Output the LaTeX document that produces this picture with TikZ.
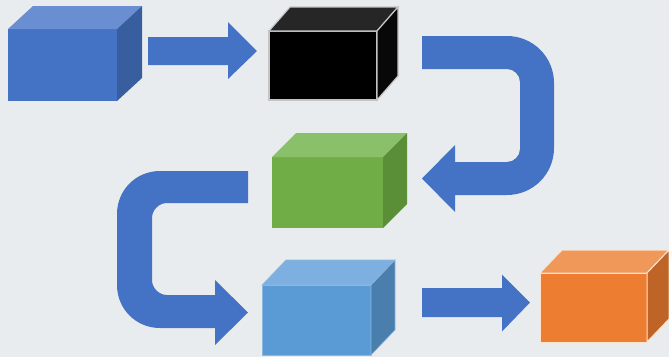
\documentclass[tikz,border=0pt]{standalone}
\usetikzlibrary{calc}
\definecolor{bgc}{HTML}{E9ECEE}
\definecolor{arrowc}{HTML}{4472C4}
\definecolor{bfront}{HTML}{4472C4}\definecolor{btop}{HTML}{6A8ED2}\definecolor{bside}{HTML}{395E9F}
\definecolor{kfront}{HTML}{000000}\definecolor{ktop}{HTML}{262626}\definecolor{kside}{HTML}{080808}\definecolor{kline}{HTML}{C4C4C4}
\definecolor{gfront}{HTML}{70AD47}\definecolor{gtop}{HTML}{8BC06A}\definecolor{gside}{HTML}{5A8F38}
\definecolor{lfront}{HTML}{5B9BD5}\definecolor{ltop}{HTML}{7DAFE0}\definecolor{lside}{HTML}{4A7EAD}\definecolor{lline}{HTML}{8DB8E2}
\definecolor{ofront}{HTML}{ED7D31}\definecolor{otop}{HTML}{F0975A}\definecolor{oside}{HTML}{BF6427}\definecolor{oline}{HTML}{FBE3D0}
\newcommand\cubefaces[6]{%
  \filldraw[#6,fill=#4] (#1.north west) -- ++(#2,-#3) -- ($(#1.north east)+(#2,-#3)$) -- (#1.north east) -- cycle;
  \filldraw[#6,fill=#5] (#1.north east) -- ++(#2,-#3) -- ($(#1.south east)+(#2,-#3)$) -- (#1.south east) -- cycle;}
\tikzset{
  box/.style={rectangle, inner sep=0pt, outer sep=0pt, anchor=north west},
  blockarrow/.style={fill=arrowc},
}
\begin{document}
\begin{tikzpicture}[x=1pt,y=-1pt]
\fill[bgc] (0,0) rectangle (669,357);
\useasboundingbox (0,0) rectangle (669,357);
% cubes
\node[box, fill=bfront, minimum width=109pt, minimum height=72pt] (b1) at (8,29) {};
\cubefaces{b1}{25}{23}{btop}{bside}{draw=none}
\node[box, fill=kfront, draw=kline, line width=1.2pt, minimum width=108pt, minimum height=69pt] (b2) at (269,31) {};
\cubefaces{b2}{21}{24}{ktop}{kside}{draw=kline, line width=1.2pt}
\node[box, fill=gfront, minimum width=111pt, minimum height=71pt] (b3) at (272,157) {};
\cubefaces{b3}{24}{24}{gtop}{gside}{draw=none}
\node[box, fill=lfront, draw=lline, line width=0.6pt, minimum width=109pt, minimum height=70pt] (b4) at (262,285) {};
\cubefaces{b4}{24}{25}{ltop}{lside}{draw=lline, line width=0.6pt}
\node[box, fill=ofront, draw=oline, line width=1pt, minimum width=107pt, minimum height=69pt] (b5) at (540,273) {};
\cubefaces{b5}{22}{23}{otop}{oside}{draw=oline, line width=1pt}
% straight arrows
\coordinate (a1s) at (148,51);
\coordinate (a1t) at (257,51);
\fill[blockarrow] ($(a1s)+(0,-14)$) -- ($(a1t)+(-29,-14)$) -- ($(a1t)+(-29,-29)$) -- (a1t)
  -- ($(a1t)+(-29,28)$) -- ($(a1t)+(-29,14)$) -- ($(a1s)+(0,14)$) -- cycle;
\coordinate (a2s) at (422,302.5);
\coordinate (a2t) at (530,302.5);
\fill[blockarrow] ($(a2s)+(0,-14.5)$) -- ($(a2t)+(-28,-14.5)$) -- ($(a2t)+(-28,-28)$) -- (a2t)
  -- ($(a2t)+(-28,29)$) -- ($(a2t)+(-28,14.5)$) -- ($(a2s)+(0,14.5)$) -- cycle;
% right U-turn arrow
\fill[blockarrow] (422,36) -- (507,36) .. controls (533,36) and (554,57) .. (554,83)
  -- (554,148) .. controls (554,174) and (533,195) .. (507,195)
  -- (455,195) -- (455,212) -- (422,178.5) -- (455,145) -- (455,162) -- (507,162)
  .. controls (514,162) and (520,156) .. (520,149) -- (520,82)
  .. controls (520,75) and (514,69) .. (507,69) -- (422,69) -- cycle;
% left C arrow
\fill[blockarrow] (248,171) -- (160,171) .. controls (136,171) and (117,190) .. (117,214)
  -- (117,285) .. controls (117,309) and (136,328) .. (160,328)
  -- (215,328) -- (215,345) -- (248,312.5) -- (215,280) -- (215,295) -- (167,295)
  .. controls (159,295) and (152,288) .. (152,280) -- (152,218)
  .. controls (152,210) and (159,203) .. (167,203) -- (248,203) -- cycle;
\end{tikzpicture}
\end{document}
